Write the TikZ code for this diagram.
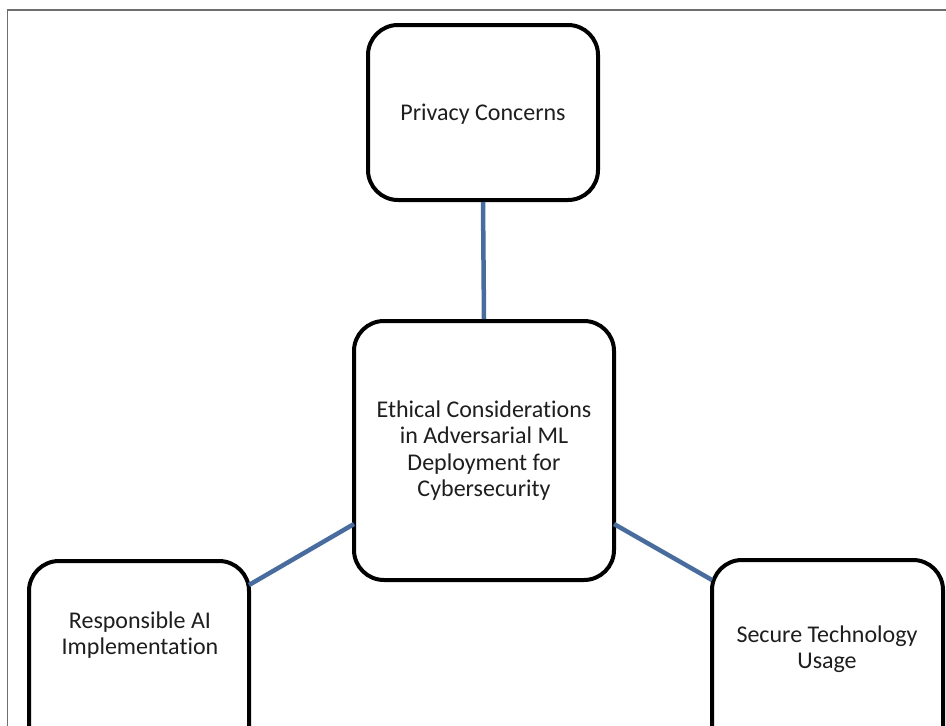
\documentclass[tikz,border=0pt]{standalone}
\usepackage{fontspec}
\setmainfont{Carlito}[Ligatures={NoCommon}]
\definecolor{linkblue}{RGB}{72,108,158}
\definecolor{framegray}{RGB}{110,110,110}
\definecolor{textgray}{RGB}{30,30,30}
\begin{document}
\begin{tikzpicture}[x=1pt,y=-1pt,
  topicbox/.style={draw=black, line width=4pt, rounded corners=30pt, fill=white,
    inner sep=0pt, align=center, text=textgray, font=\fontsize{24}{26.5}\selectfont},
  boxtext/.style={align=center, inner sep=0pt, text=textgray, font=\fontsize{24}{26.5}\selectfont},
  link/.style={draw=linkblue, line width=4.5pt}]
\useasboundingbox (0,0) rectangle (946,726);
\clip (0,0) rectangle (946,726);
\fill[white] (0,0) rectangle (946,726);
% outer frame
\draw[framegray, line width=1.5pt] (7.5,726) -- (7.5,10) -- (946,10);
% boxes
\node[topicbox, minimum width=230pt, minimum height=175pt] (priv) at (483,112.5) {};
\node[boxtext] (privtext) at (483,114) {Privacy Concerns};
\node[topicbox, minimum width=260pt, minimum height=259pt] (eth) at (484,450.5)
  {Ethical Considerations\\in Adversarial ML\\Deployment for\\Cybersecurity};
\node[topicbox, minimum width=220pt, minimum height=200pt] (rai) at (139,661) {};
\node[topicbox, minimum width=231pt, minimum height=200pt] (stu) at (827.5,660) {};
\node[boxtext] (raitext) at (140,635) {Responsible AI\\Implementation};
\node[boxtext] (stutext) at (827,649) {Secure Technology\\Usage};
% connectors
\coordinate (ethL) at (354,524);
\coordinate (ethR) at (614,524);
\coordinate (raiR) at (249,585);
\coordinate (stuL) at (712,580);
\begin{scope}[on background layer/.try]
\draw[link] (priv.south) -- (eth.north);
\draw[link] (ethL) -- (raiR);
\draw[link] (ethR) -- (stuL);
\end{scope}
\end{tikzpicture}
\end{document}
